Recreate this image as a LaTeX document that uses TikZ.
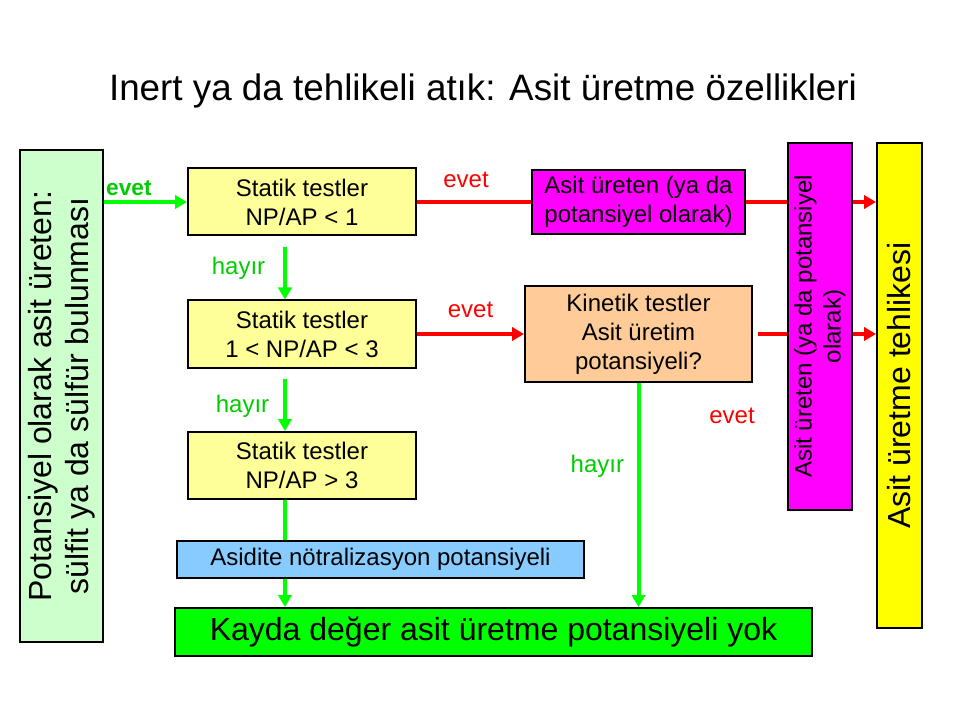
\documentclass[tikz,border=0pt]{standalone}
\usepackage{fontspec}
\setmainfont{Liberation Sans}
\usetikzlibrary{arrows.meta}
\definecolor{sidegreen}{HTML}{CCFFCC}
\definecolor{testyellow}{HTML}{FFFF99}
\definecolor{acidmagenta}{HTML}{FF00FF}
\definecolor{kinpeach}{HTML}{FFCC99}
\definecolor{hazyellow}{HTML}{FFFF00}
\definecolor{neutblue}{HTML}{88CCFF}
\definecolor{nonegreen}{HTML}{00FF00}
\definecolor{yesred}{HTML}{FF0000}
\definecolor{nogreen}{HTML}{00FF00}
\definecolor{labgreen}{HTML}{00CC00}

\begin{document}
\begin{tikzpicture}[x=0.75pt,y=-0.75pt,
    every node/.style={font=\fontsize{18}{21.75}\selectfont},
    flowbox/.style={draw=black,line width=1.5pt,align=center,inner sep=0pt},
    testbox/.style={flowbox,fill=testyellow,minimum width=171pt,minimum height=50.25pt},
    yesline/.style={color=yesred,line width=3pt},
    noline/.style={color=nogreen,line width=3pt},
    flowtip/.style={-{Triangle[length=9pt,width=10pt]}}]
    \useasboundingbox (0,0) rectangle (960,720);

    \node[font=\fontsize{27.6}{33}\selectfont] (title) at (483,91) {Inert ya da tehlikeli atık: Asit üretme özellikleri};

    \node[flowbox,fill=sidegreen,rotate=90,minimum width=369pt,minimum height=62.25pt,font=\fontsize{24}{28}\selectfont] (src) at (61.5,396) {Potansiyel olarak asit üreten:\\sülfit ya da sülfür bulunması};

    \node[testbox] (st1) at (302,202) {Statik testler\\NP/AP < 1};
    \node[testbox] (st2) at (302,334) {Statik testler\\1 < NP/AP < 3};
    \node[testbox] (st3) at (302,465.5) {Statik testler\\NP/AP > 3};

    \node[flowbox,fill=acidmagenta,minimum width=159.75pt,minimum height=48pt] (acid) at (638.5,202) {Asit üreten (ya da\\potansiyel olarak)};
    \node[flowbox,fill=kinpeach,minimum width=170.25pt,minimum height=72pt] (kin) at (638.5,334) {Kinetik testler\\Asit üretim\\potansiyeli?};
    \node[flowbox,fill=acidmagenta,rotate=90,minimum width=275.25pt,minimum height=48pt] (acidv) at (820,326.5) {Asit üreten (ya da potansiyel\\olarak)};
    \node[flowbox,fill=hazyellow,rotate=90,minimum width=363.75pt,minimum height=33.75pt,font=\fontsize{24}{28}\selectfont] (haz) at (899.5,385.5) {Asit üretme tehlikesi};

    \node[flowbox,fill=neutblue,minimum width=305.25pt,minimum height=27.75pt] (anp) at (380.5,559.5) {Asidite nötralizasyon potansiyeli};
    \node[flowbox,fill=nonegreen,minimum width=477.75pt,minimum height=36pt,font=\fontsize{24}{28}\selectfont] (none) at (493.5,632) {Kayda değer asit üretme potansiyeli yok};

    \node[text=yesred] (evet3) at (732,416) {evet};
    \coordinate (drop) at (285,0);

    % evet: red connectors
    \path[yesline]
    (st1.east) edge node [above=6pt,pos=0.43] {evet} (acid.west)
    (acid.east) edge (acid.east -| acidv.north)
    (acid.east -| acidv.south) edge [flowtip] (acid.east -| haz.north)
    (st2.east) edge [flowtip] node [above=7pt] {evet} (kin.west)
    (kin.east) edge [shorten <=4pt] (kin.east -| acidv.north)
    (kin.east -| acidv.south) edge [flowtip] (kin.east -| haz.north)
    ;

    % hayir: green connectors
    \path[noline,every node/.style={text=labgreen,font=\fontsize{18}{21.75}\selectfont}]
    (src.south |- st1.west) edge [flowtip] node [above,pos=0.3,font=\fontsize{17}{20}\bfseries] {evet} (st1.west)
    (st1.south -| drop) edge [flowtip,shorten <=8pt] node [left=10pt] {hayır} (st2.north -| drop)
    (st2.south -| drop) edge [flowtip,shorten <=7.5pt] node [left=7pt,pos=0.6] {hayır} (st3.north -| drop)
    (st3.south -| drop) edge (anp.north -| drop)
    (anp.south -| drop) edge [flowtip] (none.north -| drop)
    (kin.south) edge [flowtip] node [left=6pt,pos=0.37] {hayır} (kin.south |- none.north)
    ;
\end{tikzpicture}
\end{document}
